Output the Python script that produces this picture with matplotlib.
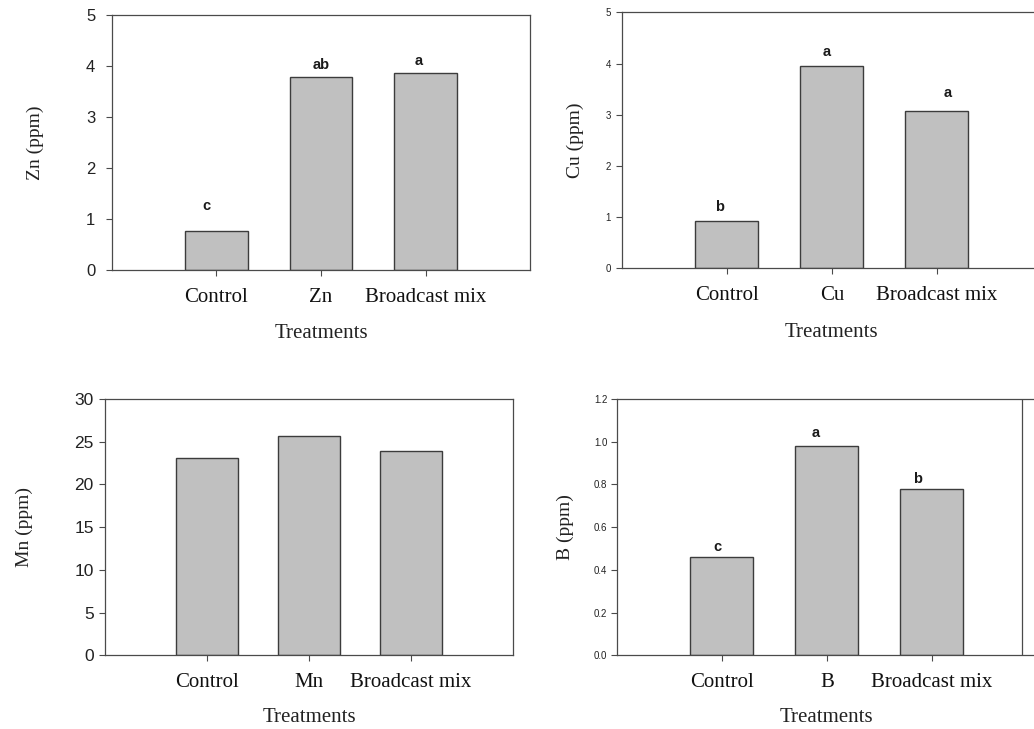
import matplotlib.pyplot as plt
import numpy as np

plt.rcParams['font.family'] = 'Liberation Sans'

# values
zn_groups = ["Control", "Zn", "Broadcast mix"]
zn_values = [0.76, 3.78, 3.86]
zn_letters = ["c", "ab", "a"]

cu_groups = ["Control", "Cu", "Broadcast mix"]
cu_values = [0.93, 3.96, 3.07]
cu_letters = ["b", "a", "a"]

mn_groups = ["Control", "Mn", "Broadcast mix"]
mn_values = [23.1, 25.7, 23.95]
mn_letters = ["", "", ""]

b_groups = ["Control", "B", "Broadcast mix"]
b_values = [0.46, 0.98, 0.778]
b_letters = ["c", "a", "b"]

bar_col = '#c0c0c0'
edge_col = '#3c3c3c'
spine_col = '#4a4a4a'
serif = 'Liberation Serif'

fig = plt.figure(figsize=(10.34, 7.29), dpi=100)


def panel(rect, groups, values, letters, ylabel, ylim, yticks, yfmt, tick_fs, ypad,
          letter_off, ylab_x, xlab_y):
    ax = fig.add_axes(rect)
    x = np.arange(1, len(groups) + 1)
    ax.bar(x, values, width=0.6, color=bar_col, edgecolor=edge_col, linewidth=1.0, zorder=2)
    for xi, v, lab, (dx, dy) in zip(x, values, letters, letter_off):
        if lab:
            ax.annotate(lab, (xi, v), xytext=(dx, dy), textcoords='offset points',
                        ha='center', va='bottom', fontsize=10.5, fontweight='bold',
                        color='#1a1a1a')
    ax.set_xlim(0, 4)
    ax.set_ylim(*ylim)
    ax.set_yticks(yticks)
    ax.set_yticklabels([yfmt.format(t) for t in yticks], fontsize=tick_fs, color='#222222')
    ax.set_xticks(x)
    ax.set_xticklabels(groups, family=serif, fontsize=15, color='#111111')
    ax.tick_params(axis='y', direction='out', length=4, width=0.8, color=spine_col, pad=ypad)
    ax.tick_params(axis='x', direction='out', length=4, width=0.8, color=spine_col, pad=9)
    for s in ax.spines.values():
        s.set_color(spine_col)
        s.set_linewidth(0.9)
    ax.set_ylabel(ylabel, family=serif, fontsize=14, color='#222222')
    ax.yaxis.set_label_coords(ylab_x, 0.5)
    ax.set_xlabel("Treatments", family=serif, fontsize=15, color='#222222')
    ax.xaxis.set_label_coords(0.5, xlab_y)
    return ax


panel([0.1083, 0.6296, 0.4043, 0.3498], zn_groups, zn_values, zn_letters, "Zn (ppm)",
      (0, 5), [0, 1, 2, 3, 4, 5], "{:g}", 12, 8,
      [(-7, 13), (0, 4), (-5, 4)], -0.163, -0.212)

panel([0.6015, 0.632, 0.406, 0.3511], cu_groups, cu_values, cu_letters, "Cu (ppm)",
      (0, 5), [0, 1, 2, 3, 4, 5], "{:g}", 7, 4,
      [(-5, 5), (-4, 5), (8, 8)], -0.091, -0.214)

panel([0.1015, 0.1011, 0.3946, 0.3516], mn_groups, mn_values, mn_letters, "Mn (ppm)",
      (0, 30), [0, 5, 10, 15, 20, 25, 30], "{:g}", 12.5, 4,
      [(0, 0), (0, 0), (0, 0)], -0.176, -0.206)

axb = panel([0.5967, 0.1011, 0.406, 0.3516], b_groups, b_values, b_letters, "B (ppm)",
            (0, 1.2), [0.0, 0.2, 0.4, 0.6, 0.8, 1.0, 1.2], "{:.1f}", 7, 3,
            [(-3, 2), (-8, 4), (-10, 2)], -0.103, -0.206)
# stray frame line seen on the right of the boron panel
axb.axvline(3.86, color=spine_col, linewidth=0.9)

plt.savefig("out.png", dpi=100)
